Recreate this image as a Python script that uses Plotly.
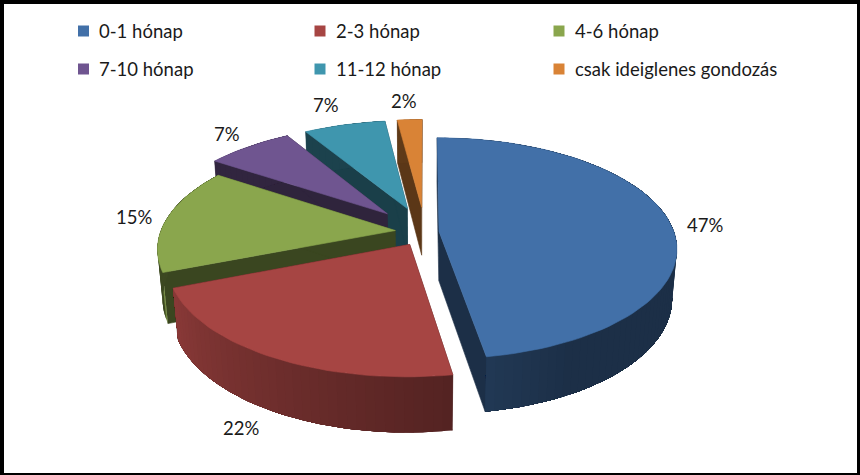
import numpy as np
import plotly.graph_objects as go

categories = ["0-1 hónap", "2-3 hónap", "4-6 hónap", "7-10 hónap", "11-12 hónap", "csak ideiglenes gondozás"]
values = [47.4, 21.6, 15.4, 7, 6.6, 2]
colors = ["#4270A8", "#A64543", "#8AA64D", "#6F5590", "#3F96AE", "#D98336"]

# how far each slice is pulled out, in pie radii
pull = [0.06, 0.13, 0.127, 0.238, 0.235, 0.237]
# order the slices are painted in, back to front
paint_order = [5, 4, 3, 2, 0, 1]

# label and legend placement, in pixels of the 860x475 picture
label_pos = [(705, 225), (241, 428), (134, 217), (227, 134), (326, 105), (404, 101)]
legend_x = [83.5, 320, 559]
legend_y = [31, 69]

# camera for the tilted 3d look
CX, CY = 425, 232
FOCAL, DIST = 1372, 5.84
ELEV = np.radians(27.4)
HEIGHT = 0.24


def project(u, v, z=0.0):
    depth = DIST - (v * np.cos(ELEV) + z * np.sin(ELEV))
    x = CX + FOCAL * u / depth
    y = CY + FOCAL * (v * np.sin(ELEV) - z * np.cos(ELEV)) / depth
    return x, y


def shade(hex_color, f):
    r, g, b = [int(hex_color[i:i + 2], 16) for i in (1, 3, 5)]
    return f"rgb({r * f:.0f},{g * f:.0f},{b * f:.0f})"


def wall_light(deg):
    # side walls get lighter towards the left of the front
    if deg > 250:
        return 0.44
    return float(np.clip(0.42 + (deg - 150) / 95 * 0.4, 0.42, 0.82))


def add_poly(fig, x, y, color, edge=0.6):
    fig.add_trace(go.Scatter(
        x=x, y=y, mode="lines", fill="toself", fillcolor=color,
        line=dict(color=color, width=edge), hoverinfo="skip", showlegend=False,
    ))


fig = go.Figure()

edges = np.cumsum([0] + values) / sum(values) * 360

for i in paint_order:
    a0, a1 = edges[i], edges[i + 1]
    mid = np.radians((a0 + a1) / 2)
    ou, ov = pull[i] * np.sin(mid), -pull[i] * np.cos(mid)
    theta = np.radians(np.linspace(a0, a1, max(3, int((a1 - a0) / 2) + 2)))
    u = ou + np.sin(theta)
    v = ov - np.cos(theta)

    # flat faces running from the centre to the rim
    for k in (0, -1):
        fu = np.array([ou, u[k], u[k], ou])
        fv = np.array([ov, v[k], v[k], ov])
        fz = np.array([0, 0, -HEIGHT, -HEIGHT])
        px, py = project(fu, fv, fz)
        add_poly(fig, px, py, shade(colors[i], 0.42))

    # outer wall: each step repaints the rest of the rim, which leaves no seams
    for s in range(len(theta) - 1):
        tx, ty = project(u[s:], v[s:])
        bx, by = project(u[s:], v[s:], -HEIGHT)
        add_poly(fig, np.r_[tx, bx[::-1]], np.r_[ty, by[::-1]],
                 shade(colors[i], wall_light(np.degrees(theta[s]))), edge=0)

    # top of the slice
    tx, ty = project(np.r_[ou, u, ou], np.r_[ov, v, ov])
    add_poly(fig, tx, ty, colors[i])

# legend, three columns on two rows
for i, name in enumerate(categories):
    lx = legend_x[i % 3]
    ly = legend_y[i // 3]
    fig.add_trace(go.Scatter(
        x=[lx], y=[ly], mode="markers",
        marker=dict(symbol="square", size=11, color=colors[i]),
        hoverinfo="skip", showlegend=False,
    ))
    fig.add_annotation(x=lx + 13.5, y=ly, text=name, showarrow=False, xanchor="left",
                       font=dict(family="Lato", size=18.5, color="#1a1a1a"))

for (lx, ly), val in zip(label_pos, values):
    fig.add_annotation(x=lx, y=ly, text=f"{val:.0f}%", showarrow=False,
                       font=dict(family="Lato", size=18.5, color="#1a1a1a"))

fig.update_layout(
    width=860, height=475,
    margin=dict(l=4, r=3, t=4, b=2, pad=0),
    paper_bgcolor="black",
    plot_bgcolor="white",
    xaxis=dict(range=[4, 857], visible=False),
    yaxis=dict(range=[473, 4], visible=False),
    showlegend=False,
)

fig.write_html("out.html", config=dict(displayModeBar=False),
               post_script="document.body.style.margin='0';")
